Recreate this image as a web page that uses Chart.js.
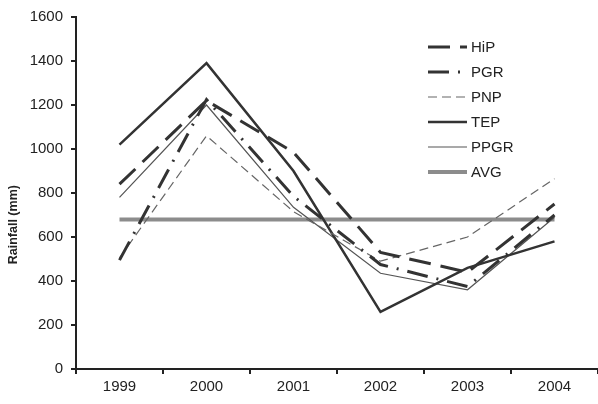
<!DOCTYPE html>
<html>
<head>
<meta charset="utf-8">
<script src="https://cdn.jsdelivr.net/npm/chart.js"></script>
<style>
  body { margin: 0; background: #fff; }
  #wrap { width: 598px; height: 404px; }
</style>
</head>
<body>
<div id="wrap"><canvas id="rainChart" width="598" height="404"></canvas></div>
<script>
// annual rainfall per site (mm)
const years = ['1999', '2000', '2001', '2002', '2003', '2004'];
const hip  = [840, 1220, 985, 530, 440, 750];
const pgr  = [495, 1225, 785, 475, 375, 700];
const pnp  = [505, 1060, 715, 490, 600, 865];
const tep  = [1020, 1390, 900, 260, 460, 580];
const ppgr = [780, 1200, 735, 435, 360, 690];
const avg  = [680, 680, 680, 680, 680, 680];
const yTitle = 'Rainfall (mm)';

const ink = '#222';
const fontFamily = '"Liberation Sans", Arial, sans-serif';

function line(label, data, color, width, dash) {
    return {
        label: label,
        data: data,
        borderColor: color,
        borderWidth: width,
        borderDash: dash,
        borderCapStyle: 'butt',
        pointRadius: 0,
        tension: 0,
        fill: false
    };
}

// vertical legend with line samples (top right, inside the plot) and the y title
const lineLegend = {
    id: 'lineLegend',
    afterDraw(chart) {
        const ctx = chart.ctx;
        const area = chart.chartArea;
        const x0 = area.right - 170;
        let y = area.top + 30;
        ctx.save();
        ctx.font = '15px ' + fontFamily;
        ctx.textBaseline = 'middle';
        chart.data.datasets.forEach(ds => {
            ctx.beginPath();
            ctx.setLineDash(ds.borderDash || []);
            ctx.lineWidth = ds.borderWidth;
            ctx.strokeStyle = ds.borderColor;
            ctx.lineCap = 'butt';
            ctx.moveTo(x0, y);
            ctx.lineTo(x0 + 39, y);
            ctx.stroke();
            ctx.setLineDash([]);
            ctx.fillStyle = ink;
            ctx.fillText(ds.label, x0 + 43, y + 1);
            y += 25;
        });

        // axis title, sitting a little below the middle of the axis
        ctx.translate(14, area.top + (area.bottom - area.top) * 0.59);
        ctx.rotate(-Math.PI / 2);
        ctx.textAlign = 'center';
        ctx.font = 'bold 12.5px ' + fontFamily;
        ctx.fillText(yTitle, 0, 0);
        ctx.restore();
    }
};

new Chart(document.getElementById('rainChart'), {
    type: 'line',
    data: {
        labels: years,
        datasets: [
            line('HiP', hip, '#333', 3, [22, 10]),
            line('PGR', pgr, '#333', 3, [21, 9, 2, 9]),
            line('PNP', pnp, '#666', 1.2, [9, 5]),
            line('TEP', tep, '#333', 2.5, []),
            line('PPGR', ppgr, '#555', 1.2, []),
            line('AVG', avg, '#8c8c8c', 4, [])
        ]
    },
    options: {
        responsive: false,
        animation: false,
        layout: { padding: { top: 10, right: 0, bottom: 0, left: 0 } },
        plugins: {
            legend: { display: false },
            tooltip: { enabled: false }
        },
        scales: {
            x: {
                offset: true,
                grid: {
                    offset: true,
                    drawOnChartArea: false,
                    drawTicks: true,
                    tickLength: 5,
                    color: ink,
                    lineWidth: 2
                },
                border: { color: ink, width: 2 },
                ticks: {
                    color: ink,
                    padding: 4,
                    maxRotation: 0,
                    font: { family: fontFamily, size: 15 }
                },
                afterFit(scale) { scale.height = 35; }
            },
            y: {
                min: 0,
                max: 1600,
                grid: {
                    drawOnChartArea: false,
                    drawTicks: true,
                    tickLength: 5,
                    color: ink,
                    lineWidth: 2
                },
                border: { color: ink, width: 2 },
                ticks: {
                    stepSize: 200,
                    color: ink,
                    padding: 8,
                    font: { family: fontFamily, size: 15 },
                    callback: v => String(v)
                },
                afterFit(scale) { scale.width = 76; }
            }
        }
    },
    plugins: [lineLegend]
});
</script>
</body>
</html>
